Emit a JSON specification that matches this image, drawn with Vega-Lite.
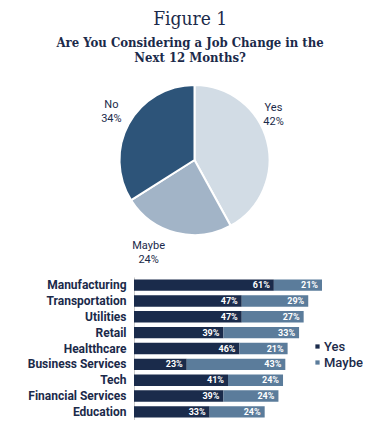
{
  "$schema": "https://vega.github.io/schema/vega-lite/v6.json",
  "padding": {"left": 27, "top": 10, "right": 0, "bottom": 0},
  "background": "white",
  "title": {
    "text": "Figure 1",
    "subtitle": ["Are You Considering a Job Change in the", "Next 12 Months?"],
    "anchor": "middle",
    "dx": -5,
    "font": "DejaVu Serif Condensed, DejaVu Serif",
    "fontSize": 19,
    "fontWeight": "normal",
    "color": "#1b2a4a",
    "subtitleFont": "DejaVu Serif Condensed, DejaVu Serif",
    "subtitleFontSize": 13,
    "subtitleFontWeight": "bold",
    "subtitleColor": "#1b2a4a",
    "subtitlePadding": 8,
    "subtitleLineHeight": 15,
    "offset": 0
  },
  "config": {
    "view": {"stroke": null},
    "concat": {"spacing": 12},
    "font": "Roboto"
  },
  "resolve": {"scale": {"color": "independent"}, "legend": {"color": "independent"}},
  "vconcat": [
    {
      "width": 121,
      "height": 190,
      "data": {"values": [
        {"answer": "Yes", "pct": 0.42, "k": 1},
        {"answer": "Maybe", "pct": 0.24, "k": 2},
        {"answer": "No", "pct": 0.34, "k": 3}
      ]},
      "encoding": {
        "theta": {"field": "pct", "type": "quantitative", "stack": true},
        "order": {"field": "k", "type": "quantitative"}
      },
      "layer": [
        {
          "mark": {"type": "arc", "outerRadius": 75, "stroke": "white", "strokeWidth": 2},
          "encoding": {
            "color": {"field": "answer", "type": "nominal", "legend": null,
              "scale": {"domain": ["Yes", "Maybe", "No"], "range": ["#d2dce5", "#a2b4c7", "#2d5479"]}}
          }
        },
        {"mark": {"type": "text", "radius": 96, "dx": -14, "dy": -28, "fontSize": 11, "color": "#1b2a4a", "font": "Roboto"},
         "encoding": {"text": {"condition": {"test": "datum.answer === 'Yes'", "field": "answer"}, "value": ""}}},
        {"mark": {"type": "text", "radius": 96, "dx": -14, "dy": -14, "fontSize": 11, "color": "#1b2a4a", "font": "Roboto"},
         "encoding": {"text": {"condition": {"test": "datum.answer === 'Yes'", "field": "pct", "type": "quantitative", "format": ".0%"}, "value": ""}}},
        {"mark": {"type": "text", "radius": 96, "dx": -22, "dy": -7, "fontSize": 11, "color": "#1b2a4a", "font": "Roboto"},
         "encoding": {"text": {"condition": {"test": "datum.answer === 'Maybe'", "field": "answer"}, "value": ""}}},
        {"mark": {"type": "text", "radius": 96, "dx": -22, "dy": 7, "fontSize": 11, "color": "#1b2a4a", "font": "Roboto"},
         "encoding": {"text": {"condition": {"test": "datum.answer === 'Maybe'", "field": "pct", "type": "quantitative", "format": ".0%"}, "value": ""}}},
        {"mark": {"type": "text", "radius": 96, "dx": 1, "dy": -9, "fontSize": 11, "color": "#1b2a4a", "font": "Roboto"},
         "encoding": {"text": {"condition": {"test": "datum.answer === 'No'", "field": "answer"}, "value": ""}}},
        {"mark": {"type": "text", "radius": 96, "dx": 1, "dy": 5, "fontSize": 11, "color": "#1b2a4a", "font": "Roboto"},
         "encoding": {"text": {"condition": {"test": "datum.answer === 'No'", "field": "pct", "type": "quantitative", "format": ".0%"}, "value": ""}}}
      ]
    },
    {
      "width": 188,
      "height": 143,
      "data": {"values": [
        {"industry": "Manufacturing", "answer": "Yes", "pct": 0.61, "k": 1},
        {"industry": "Manufacturing", "answer": "Maybe", "pct": 0.21, "k": 2},
        {"industry": "Transportation", "answer": "Yes", "pct": 0.47, "k": 1},
        {"industry": "Transportation", "answer": "Maybe", "pct": 0.29, "k": 2},
        {"industry": "Utilities", "answer": "Yes", "pct": 0.47, "k": 1},
        {"industry": "Utilities", "answer": "Maybe", "pct": 0.27, "k": 2},
        {"industry": "Retail", "answer": "Yes", "pct": 0.39, "k": 1},
        {"industry": "Retail", "answer": "Maybe", "pct": 0.33, "k": 2},
        {"industry": "Healtthcare", "answer": "Yes", "pct": 0.46, "k": 1},
        {"industry": "Healtthcare", "answer": "Maybe", "pct": 0.21, "k": 2},
        {"industry": "Business Services", "answer": "Yes", "pct": 0.23, "k": 1},
        {"industry": "Business Services", "answer": "Maybe", "pct": 0.43, "k": 2},
        {"industry": "Tech", "answer": "Yes", "pct": 0.41, "k": 1},
        {"industry": "Tech", "answer": "Maybe", "pct": 0.24, "k": 2},
        {"industry": "Financial Services", "answer": "Yes", "pct": 0.39, "k": 1},
        {"industry": "Financial Services", "answer": "Maybe", "pct": 0.24, "k": 2},
        {"industry": "Education", "answer": "Yes", "pct": 0.33, "k": 1},
        {"industry": "Education", "answer": "Maybe", "pct": 0.24, "k": 2}
      ]},
      "encoding": {
        "y": {"field": "industry", "type": "nominal", "sort": null, "title": null,
          "scale": {"paddingInner": 0.28, "paddingOuter": 0.15},
          "axis": {"ticks": false, "domainColor": "#c8c8c8", "labelFontSize": 12, "labelFontWeight": "bold",
            "labelColor": "#1b2a4a", "labelPadding": 8, "labelFont": "Roboto", "labelLimit": 200}},
        "x": {"field": "pct", "type": "quantitative", "stack": "zero", "axis": null,
          "scale": {"domain": [0, 0.82], "nice": false}},
        "order": {"field": "k", "type": "quantitative"}
      },
      "layer": [
        {
          "mark": {"type": "bar"},
          "encoding": {
            "color": {"field": "answer", "type": "nominal", "title": null,
              "scale": {"domain": ["Yes", "Maybe"], "range": ["#1a2b4b", "#5b7c9b"]},
              "legend": {"orient": "none", "legendX": 177, "legendY": 63, "symbolType": "square",
                "symbolSize": 18, "labelFontSize": 13, "labelColor": "#1b2a4a", "labelFont": "Roboto",
                "labelFontWeight": 500, "rowPadding": 2, "labelOffset": 0}}
          }
        },
        {
          "mark": {"type": "text", "align": "right", "dx": -4, "fontSize": 9, "fontWeight": "bold", "color": "white", "font": "Roboto"},
          "encoding": {"text": {"field": "pct", "type": "quantitative", "format": ".0%"}}
        }
      ]
    }
  ]
}
